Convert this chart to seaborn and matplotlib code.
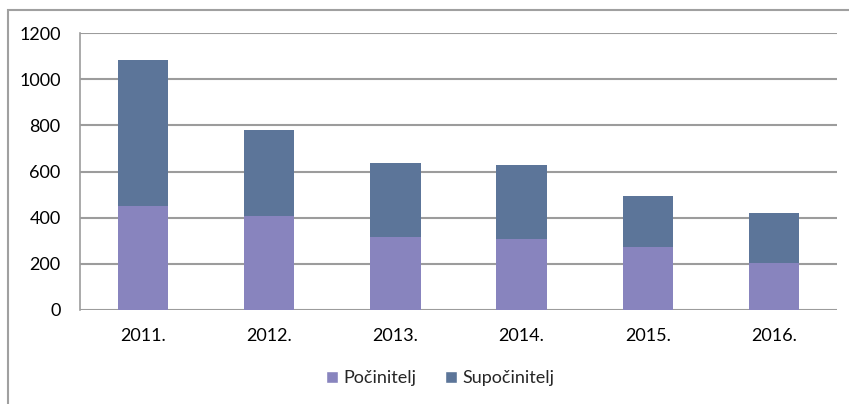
import pandas as pd
import numpy as np
import seaborn as sns
import matplotlib.pyplot as plt
from matplotlib.patches import Patch, Rectangle

godine = ['2011.', '2012.', '2013.', '2014.', '2015.', '2016.']
pocinitelj = [451, 408, 315, 307, 273, 204]
supocinitelj = [632, 372, 323, 319, 219, 218]

sns.set_theme(style="white")
plt.rcParams['font.family'] = ['Lato', 'DejaVu Sans']

df = pd.DataFrame({'godina': godine, 'Počinitelj': pocinitelj, 'Supočinitelj': supocinitelj})
df['ukupno'] = df['Počinitelj'] + df['Supočinitelj']

c_poc = '#8884BE'
c_sup = '#5C7599'
grid_c = '#9C9C9C'

fig = plt.figure(figsize=(8.49, 4.04), dpi=100)
ax = fig.add_axes([80/849, 1 - 310/404, 757/849, 277/404])

# stacked: total first, then bottom part over it
sns.barplot(data=df, x='godina', y='ukupno', color=c_sup, width=0.4, ax=ax, saturation=1, linewidth=0)
sns.barplot(data=df, x='godina', y='Počinitelj', color=c_poc, width=0.4, ax=ax, saturation=1, linewidth=0)

ax.set_ylim(0, 1200)
ax.set_xlim(-0.5, 5.5)
ax.set_yticks(np.arange(0, 1201, 200))
ax.yaxis.grid(True, color=grid_c, linewidth=1.5)
ax.set_axisbelow(True)
ax.set_xlabel('')
ax.set_ylabel('')
for s in ['top', 'right', 'bottom']:
    ax.spines[s].set_visible(False)
ax.spines['left'].set_color(grid_c)
ax.spines['left'].set_linewidth(1.2)
ax.tick_params(axis='y', length=0, pad=14, labelsize=13, colors='#000000')
ax.tick_params(axis='x', length=0, pad=13, labelsize=13, colors='#000000')

handles = [Patch(facecolor=c_poc, label='Počinitelj'), Patch(facecolor=c_sup, label='Supočinitelj')]
fig.legend(handles=handles, loc='center', bbox_to_anchor=(440/849, 1 - 378/404), ncol=2,
           frameon=False, fontsize=13, handlelength=0.65, handleheight=0.65, handletextpad=0.3,
           columnspacing=1.6)

# outer chart frame
fig.patches.append(Rectangle((8/849, -0.1), 1.0, 1 - 10/404 + 0.1, transform=fig.transFigure,
                             fill=False, edgecolor='#A0A0A0', linewidth=1.5))

fig.savefig('out.png', dpi=100)
